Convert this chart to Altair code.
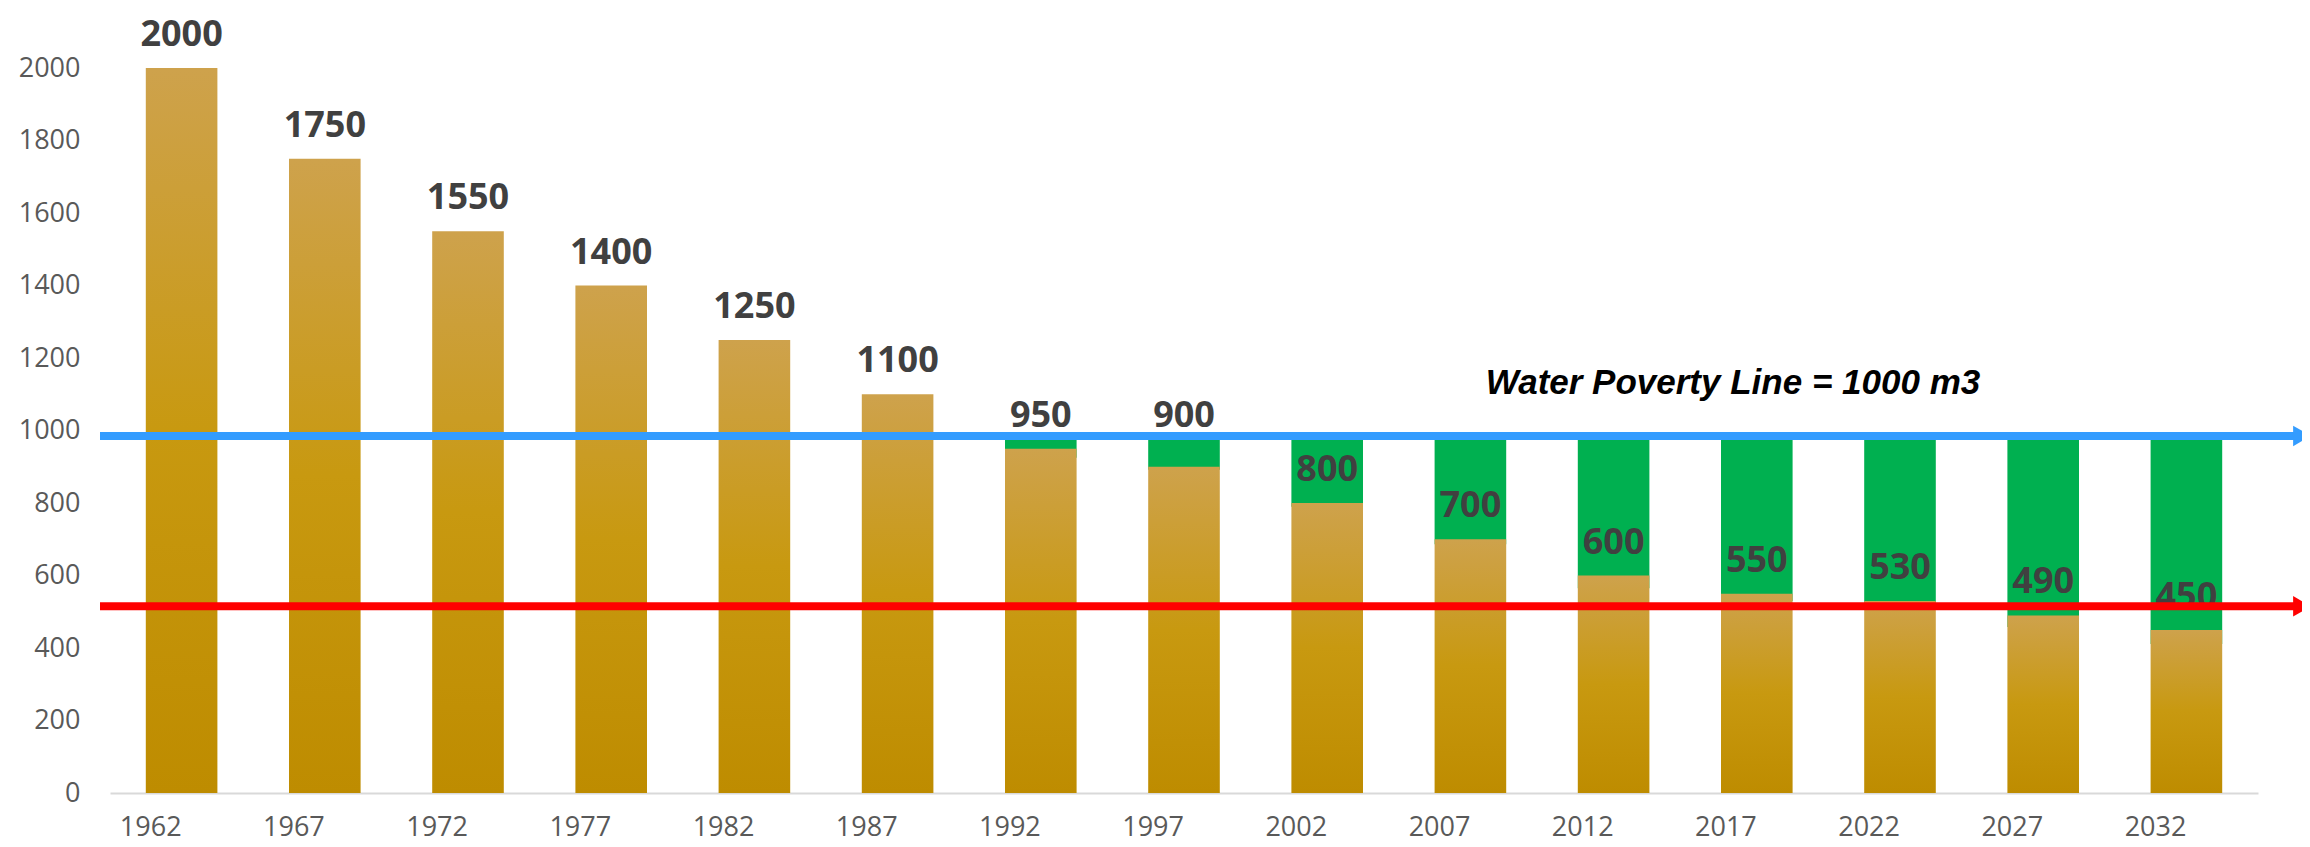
import altair as alt
import pandas as pd

years = ["1962", "1967", "1972", "1977", "1982", "1987", "1992", "1997",
         "2002", "2007", "2012", "2017", "2022", "2027", "2032"]
values = [2000, 1750, 1550, 1400, 1250, 1100, 950, 900, 800, 700, 600, 550, 530, 490, 450]

# green "deficit" blocks below the poverty line (bottom edge)
green_years = ["1992", "1997", "2002", "2007", "2012", "2017", "2022", "2027", "2032"]
green_low = [925, 892, 790, 686, 565, 530, 525, 458, 411]
green_high = 978

poverty_line = 985
scarcity_line = 515
annotation = "Water Poverty Line = 1000 m3"

df = pd.DataFrame({"year": years, "value": values})
gdf = pd.DataFrame({"year": green_years, "low": green_low, "high": [green_high] * len(green_years)})
lines = pd.DataFrame({"y": [poverty_line, scarcity_line], "c": ["#339CFF", "#FF0000"]})

W, H = 2148, 725

x = alt.X("year:N", sort=years, title=None,
          scale=alt.Scale(paddingInner=0.5, paddingOuter=0.25),
          axis=alt.Axis(labelAngle=0, ticks=False, domainColor="#D9D9D9", domainWidth=2,
                        labelFont="Open Sans", labelFontSize=27, labelColor="#595959",
                        labelPadding=34))
yscale = alt.Scale(domain=[0, 2000], nice=False)

gold = alt.LinearGradient(gradient="linear",
                          stops=[alt.GradientStop(color="#CEA24C", offset=0),
                                 alt.GradientStop(color="#C89910", offset=0.5),
                                 alt.GradientStop(color="#BE8C00", offset=1)],
                          x1=0, x2=0, y1=0, y2=1)

green = alt.Chart(gdf).mark_bar(color="#00B050").encode(
    x=alt.X("year:N", sort=years),
    y=alt.Y("low:Q", scale=yscale),
    y2="high:Q",
)

bars = alt.Chart(df).mark_bar(color=gold).encode(
    x=x,
    y=alt.Y("value:Q", scale=yscale, title=None,
            axis=alt.Axis(values=list(range(0, 2001, 200)), format="d", grid=False, ticks=False,
                          domain=False, labelFont="Open Sans", labelFontSize=27,
                          labelColor="#595959", labelPadding=30)),
)

# labels that would collide with the blue line are lifted above it, as in the source
labels = alt.Chart(df).transform_calculate(
    ly="datum.value >= 900 && datum.value < 1000 ? 950 : datum.value"
).mark_text(font="Open Sans", fontWeight="bold", fontSize=36,
            color="#404040", dy=-33, baseline="middle").encode(
    x=alt.X("year:N", sort=years),
    y=alt.Y("ly:Q", scale=yscale),
    text="value:Q",
)

rules = alt.Chart(lines).mark_rule(strokeWidth=8).encode(
    y=alt.Y("y:Q", scale=yscale),
    x=alt.value(-10),
    x2=alt.value(2190),
    color=alt.Color("c:N", scale=None),
)

arrows = alt.Chart(lines).mark_point(shape="triangle-right", filled=True, opacity=1, size=420).encode(
    y=alt.Y("y:Q", scale=yscale),
    x=alt.value(2192),
    color=alt.Color("c:N", scale=None),
)

note = alt.Chart(pd.DataFrame({"t": [annotation]})).mark_text(
    font="Liberation Sans", fontWeight="bold", fontStyle="italic", fontSize=35,
    color="#000000", align="center", baseline="middle").encode(
    text="t:N",
    x=alt.value(1623),
    y=alt.value(315),
)

chart = alt.layer(green, bars, labels, rules, arrows, note).properties(
    width=W, height=H,
    autosize=alt.AutoSizeParams(type="none"),
    padding={"left": 102, "top": 60, "right": 44, "bottom": 54},
    background="#FFFFFF",
).configure_view(stroke=None)

chart.save("out.html", embed_options={"renderer": "svg", "actions": False})
